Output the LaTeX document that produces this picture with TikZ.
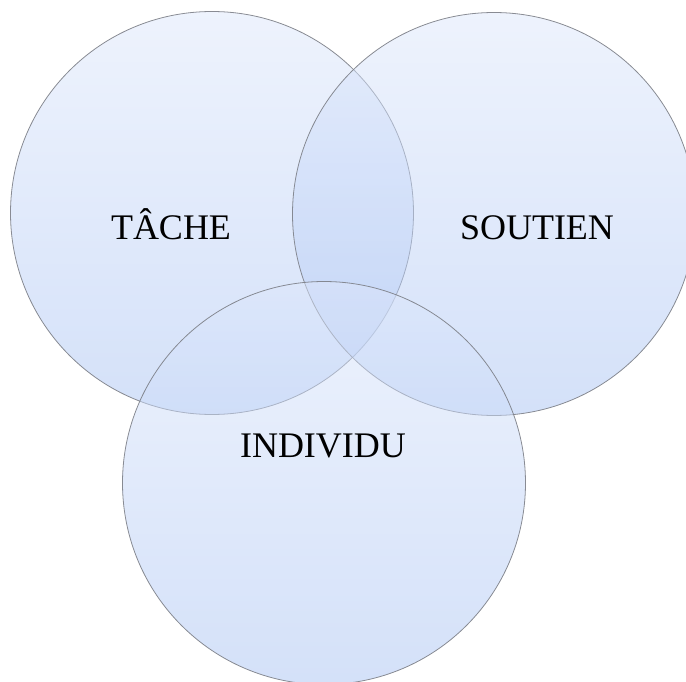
\documentclass[tikz,border=0pt]{standalone}
\usepackage{fontspec}
\setmainfont{Liberation Serif}
\definecolor{venntop}{RGB}{221,231,251}
\definecolor{vennbottom}{RGB}{169,195,243}
\definecolor{vennline}{RGB}{125,128,136}

\begin{document}
\begin{tikzpicture}[x=1pt, y=-1pt,
  venn/.style={circle, minimum size=403pt, inner sep=0pt, draw=vennline, line width=0.8pt,
    top color=venntop, bottom color=vennbottom, fill opacity=0.5, draw opacity=0.9},
  label/.style={anchor=base, font=\fontsize{36}{40}\selectfont, text=black}]
\useasboundingbox (0,0) rectangle (686,682);
\node[venn] (tache) at (212, 213) {};
\node[venn] (soutien) at (494, 214) {};
\node[venn] (individu) at (324, 483) {};
\node[label] (tachetext) at (171, 240) {TÂCHE};
\node[label] (soutientext) at (537, 240) {SOUTIEN};
\node[label] (individutext) at (323, 457) {INDIVIDU};
\end{tikzpicture}
\end{document}
